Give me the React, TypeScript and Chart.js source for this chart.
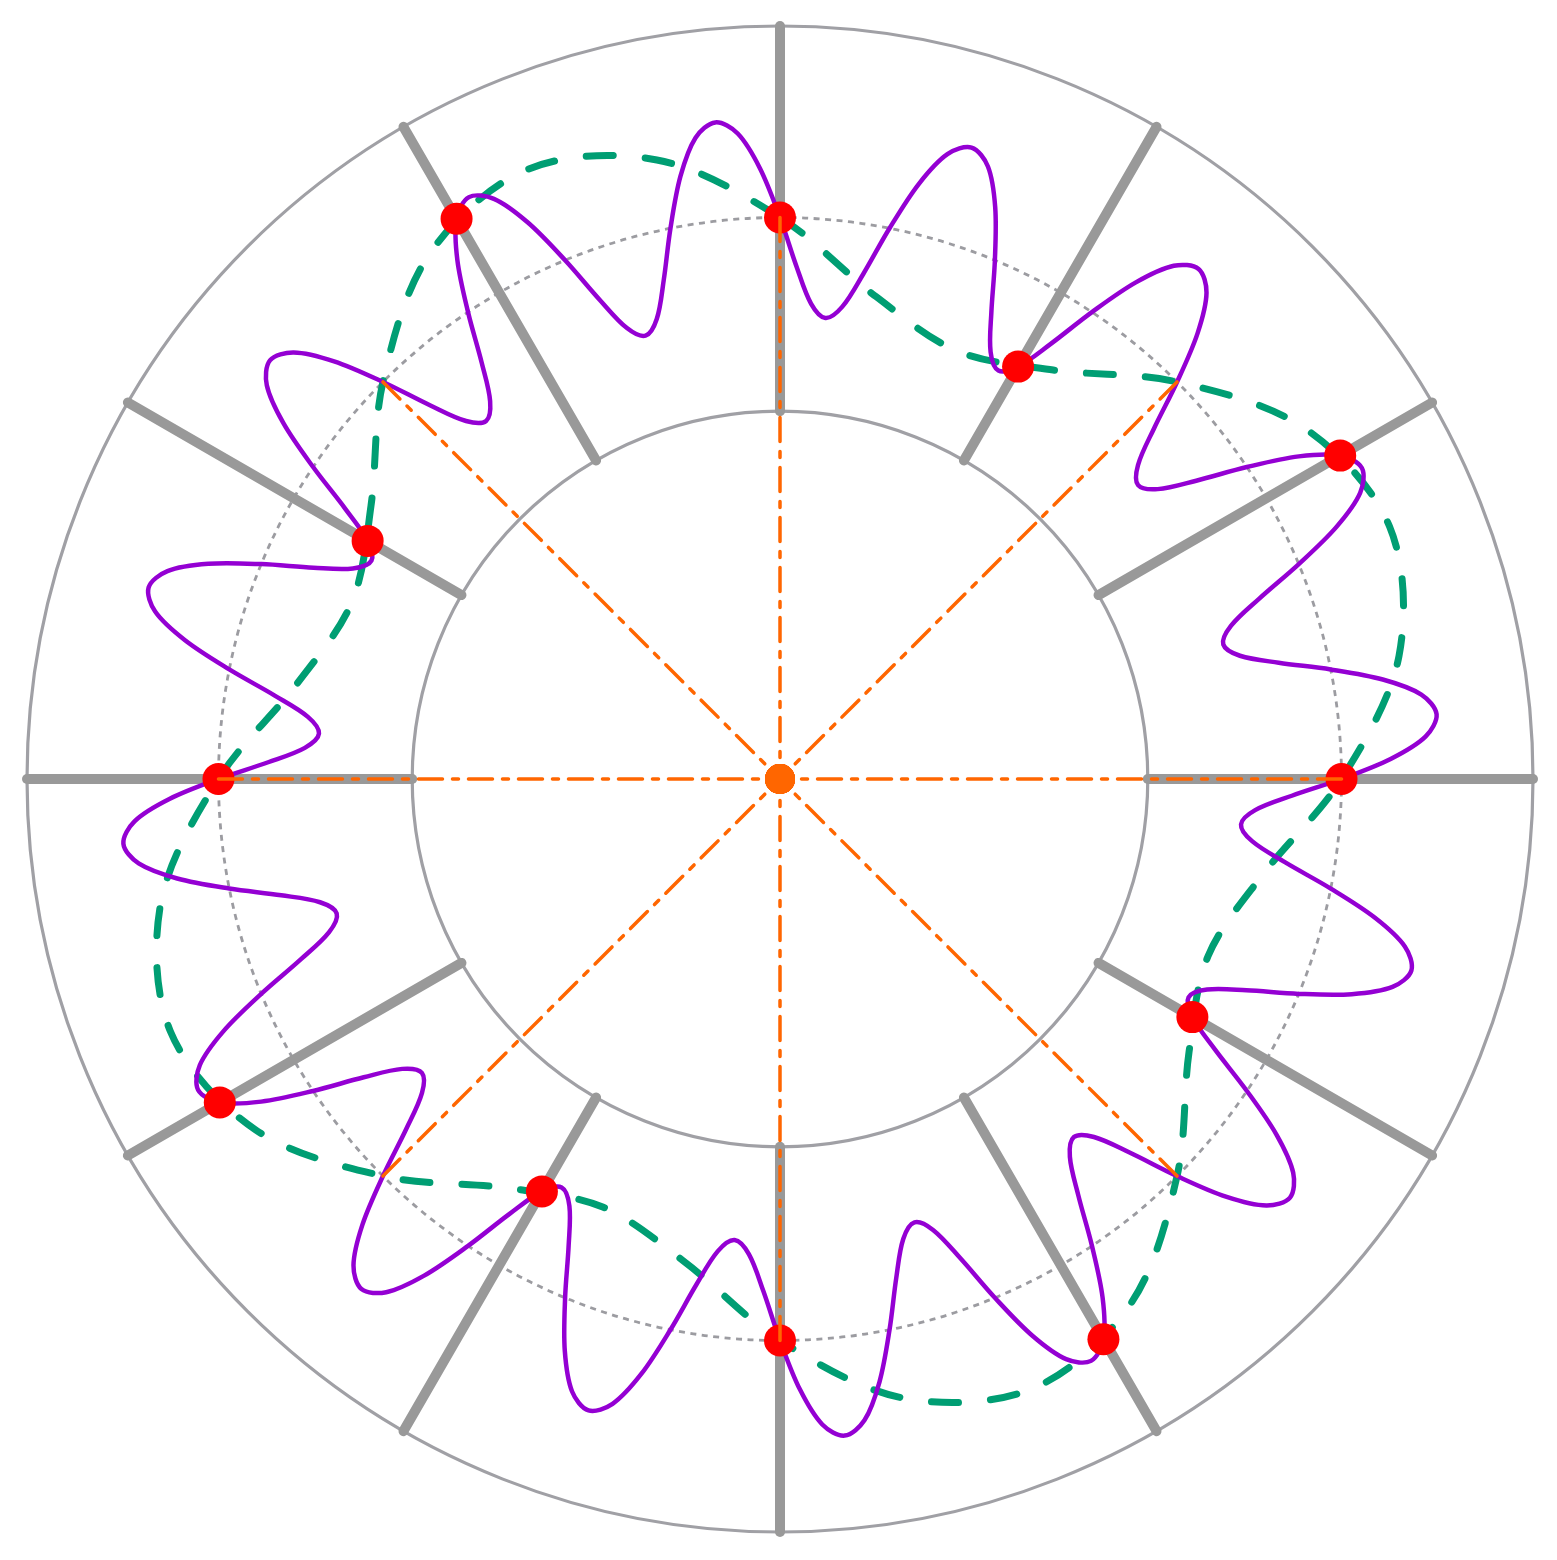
import React, { useEffect, useRef } from 'react';
import { Chart, registerables } from 'chart.js';

Chart.register(...registerables);

// Angular categories: clockwise from the top, 1.875° apart (192 around the circle)
const ANGLE_STEP = 1.875;
const angleLabels: string[] = Array.from({ length: 192 }, (_, i) => (i * ANGLE_STEP).toFixed(3) + '°');

// Radial axis
const radialMin = 0;
const radialMax = 1.341;
const circleTicks = [0, 0.655, 1, 1.341]; // first (0) is not drawn

// Gray spokes (between inner and outer circle)
const spokeAngles = [0, 30, 60, 90, 120, 150, 180, 210, 240, 270, 300, 330];
const spokeInner = 0.655;
const spokeOuter = 1.341;

// Purple wavy curve, one value per angular category (192)
const purpleValues = [
  1, 0.912, 0.848, 0.825, 0.848, 0.912, 1, 1.088, 1.152, 1.175, 1.152, 1.088,
  1, 0.912, 0.848, 0.825, 0.848, 0.912, 1, 1.088, 1.152, 1.175, 1.152, 1.088,
  1, 0.912, 0.848, 0.825, 0.848, 0.912, 1, 1.088, 1.152, 1.175, 1.152, 1.088,
  1, 0.912, 0.848, 0.825, 0.848, 0.912, 1, 1.088, 1.152, 1.175, 1.152, 1.088,
  1, 0.912, 0.848, 0.825, 0.848, 0.912, 1, 1.088, 1.152, 1.175, 1.152, 1.088,
  1, 0.912, 0.848, 0.825, 0.848, 0.912, 1, 1.088, 1.152, 1.175, 1.152, 1.088,
  1, 0.912, 0.848, 0.825, 0.848, 0.912, 1, 1.088, 1.152, 1.175, 1.152, 1.088,
  1, 0.912, 0.848, 0.825, 0.848, 0.912, 1, 1.088, 1.152, 1.175, 1.152, 1.088,
  1, 0.912, 0.848, 0.825, 0.848, 0.912, 1, 1.088, 1.152, 1.175, 1.152, 1.088,
  1, 0.912, 0.848, 0.825, 0.848, 0.912, 1, 1.088, 1.152, 1.175, 1.152, 1.088,
  1, 0.912, 0.848, 0.825, 0.848, 0.912, 1, 1.088, 1.152, 1.175, 1.152, 1.088,
  1, 0.912, 0.848, 0.825, 0.848, 0.912, 1, 1.088, 1.152, 1.175, 1.152, 1.088,
  1, 0.912, 0.848, 0.825, 0.848, 0.912, 1, 1.088, 1.152, 1.175, 1.152, 1.088,
  1, 0.912, 0.848, 0.825, 0.848, 0.912, 1, 1.088, 1.152, 1.175, 1.152, 1.088,
  1, 0.912, 0.848, 0.825, 0.848, 0.912, 1, 1.088, 1.152, 1.175, 1.152, 1.088,
  1, 0.912, 0.848, 0.825, 0.848, 0.912, 1, 1.088, 1.152, 1.175, 1.152, 1.088,
];

// Green dashed smooth curve, every 11.25°
const greenAngles = [
  0, 11.25, 22.5, 33.75, 45, 56.25, 67.5, 78.75,
  90, 101.25, 112.5, 123.75, 135, 146.25, 157.5, 168.75,
  180, 191.25, 202.5, 213.75, 225, 236.25, 247.5, 258.75,
  270, 281.25, 292.5, 303.75, 315, 326.25, 337.5, 348.75,
];
const greenValues = [
  1, 0.876, 0.825, 0.876, 1, 1.124, 1.175, 1.124,
  1, 0.876, 0.825, 0.876, 1, 1.124, 1.175, 1.124,
  1, 0.876, 0.825, 0.876, 1, 1.124, 1.175, 1.124,
  1, 0.876, 0.825, 0.876, 1, 1.124, 1.175, 1.124,
];

// Red markers every 30°
const redAngles = [0, 30, 60, 90, 120, 150, 180, 210, 240, 270, 300, 330];
const redValues = [1, 0.848, 1.152, 1, 0.848, 1.152, 1, 0.848, 1.152, 1, 0.848, 1.152];

// Orange dash-dot rays from the centre to r = 1 every 45°
const orangeAngles = [0, 45, 90, 135, 180, 225, 270, 315];
const orangeOuter = 1;
const orangeCenter = 0;

function toSeries(angles: number[], values: number[]): (number | null)[] {
  const arr: (number | null)[] = angleLabels.map(() => null);
  angles.forEach((a, k) => {
    arr[Math.round(a / ANGLE_STEP)] = values[k];
  });
  return arr;
}

function orangeSeries(): (number | null)[] {
  const arr: (number | null)[] = angleLabels.map(() => null);
  orangeAngles.forEach((a) => {
    const idx = Math.round(a / ANGLE_STEP);
    arr[idx] = orangeOuter;
    arr[(idx + 1) % angleLabels.length] = orangeCenter;
  });
  return arr;
}

const CIRCLE_COLOR = '#a0a0a5';
const DOTTED_COLOR = '#9c9ca1';
const SPOKE_COLOR = '#999999';

const spokePlugin = {
  id: 'spokes',
  beforeDatasetsDraw(chart: any) {
    const scale = chart.scales.r;
    const ctx = chart.ctx;
    ctx.save();
    ctx.strokeStyle = SPOKE_COLOR;
    ctx.lineWidth = 10;
    ctx.lineCap = 'round';
    ctx.setLineDash([]);
    spokeAngles.forEach((a) => {
      const idx = Math.round(a / ANGLE_STEP);
      const p1 = scale.getPointPositionForValue(idx, spokeInner);
      const p2 = scale.getPointPositionForValue(idx, spokeOuter);
      ctx.beginPath();
      ctx.moveTo(p1.x, p1.y);
      ctx.lineTo(p2.x, p2.y);
      ctx.stroke();
    });
    ctx.restore();
  },
};

export default function App() {
  const canvasRef = useRef<HTMLCanvasElement | null>(null);

  useEffect(() => {
    const canvas = canvasRef.current;
    if (!canvas) return;
    const chart = new Chart(canvas, {
      type: 'radar',
      data: {
        labels: angleLabels,
        datasets: [
          {
            label: 'rays',
            data: orangeSeries(),
            borderColor: '#ff6600',
            borderWidth: 3.5,
            borderDash: [24, 10, 6, 10],
            borderCapStyle: 'round',
            spanGaps: false,
            tension: 0,
            fill: false,
            pointRadius: (c: any) => (c.raw === 0 ? 15 : 0),
            pointBackgroundColor: '#ff6600',
            pointBorderWidth: 0,
            pointHoverRadius: 0,
          },
          {
            label: 'markers',
            data: toSeries(redAngles, redValues),
            showLine: false,
            borderWidth: 0,
            borderColor: 'rgba(0,0,0,0)',
            pointRadius: 16,
            pointBackgroundColor: '#ff0000',
            pointBorderWidth: 0,
            pointHoverRadius: 16,
            spanGaps: true,
            fill: false,
          },
          {
            label: 'wave',
            data: purpleValues,
            borderColor: '#9400d3',
            borderWidth: 4.5,
            tension: 0.33,
            fill: false,
            pointRadius: 0,
            pointHoverRadius: 0,
          },
          {
            label: 'smooth',
            data: toSeries(greenAngles, greenValues),
            borderColor: '#009e73',
            borderWidth: 7,
            borderDash: [27, 32],
            borderCapStyle: 'round',
            spanGaps: true,
            tension: 0.33,
            fill: false,
            pointRadius: 0,
            pointHoverRadius: 0,
          },
        ],
      },
      options: {
        responsive: false,
        animation: false,
        devicePixelRatio: 1,
        events: [],
        layout: { padding: { left: 27, top: 26, right: 24, bottom: 28 } },
        plugins: {
          legend: { display: false },
          tooltip: { enabled: false },
          title: { display: false },
        },
        scales: {
          r: {
            min: radialMin,
            max: radialMax,
            startAngle: 0,
            afterBuildTicks: (scale: any) => {
              scale.ticks = circleTicks.map((v) => ({ value: v }));
            },
            ticks: { display: false },
            pointLabels: { display: false },
            angleLines: { display: false },
            grid: {
              circular: true,
              color: (c: any) => (c.index === 2 ? DOTTED_COLOR : CIRCLE_COLOR),
              lineWidth: (c: any) => (c.index === 2 ? 2.8 : 3.2),
            },
            border: {
              dash: (c: any) => (c.index === 2 ? [6, 5.5] : []),
            },
          },
        },
      } as any,
      plugins: [spokePlugin],
    });
    return () => chart.destroy();
  }, []);

  return (
    <div style={{ position: 'fixed', left: 0, top: 0, width: 1557, height: 1560, background: '#ffffff' }}>
      <canvas ref={canvasRef} width={1557} height={1560} style={{ display: 'block', width: 1557, height: 1560 }} />
    </div>
  );
}
